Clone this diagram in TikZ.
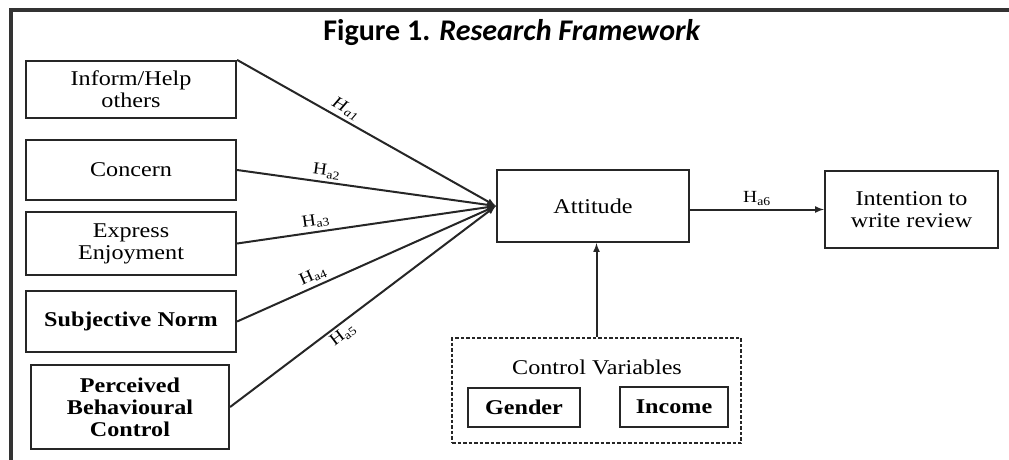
\documentclass[tikz,border=0pt]{standalone}
\usepackage{fontspec}
\setmainfont{Liberation Serif}[FakeStretch=1.15]
\newfontfamily\titlefont{Carlito}
\usetikzlibrary{arrows,positioning}

\begin{document}
\begin{tikzpicture}[x=1pt,y=-1pt,
  font=\fontsize{21}{22}\selectfont,
  varbox/.style={draw=black!85, line width=2.2pt, align=center, inner sep=0pt},
  edge/.style={draw=black!85, line width=2pt, -latex},
  hlabel/.style={font=\fontsize{17}{17}\selectfont, sloped, inner sep=3pt},
  ]
  \useasboundingbox (0,0) rectangle (1009,460);
  \draw[line width=3.5pt, black!80] (11,460) -- (11,10) -- (1009,10);
  \node[font=\titlefont\fontsize{30}{32}\selectfont\bfseries] (title) at (512,33) {Figure 1. \textit{Research Framework}};

  % left side
  \node[varbox, minimum width=210, minimum height=57] (help) at (131,89.5) {Inform/Help\\others};
  \node[varbox, minimum width=210, minimum height=60] (concern) at (131,170) {Concern};
  \node[varbox, minimum width=210, minimum height=63] (enjoy) at (131,243.5) {Express\\Enjoyment};
  \node[varbox, minimum width=210, minimum height=61, font=\fontsize{21}{22}\selectfont\bfseries] (norm) at (131,321.5) {Subjective Norm};
  \node[varbox, minimum width=198, minimum height=84, font=\fontsize{21}{22}\selectfont\bfseries] (pbc) at (130,407) {Perceived\\Behavioural\\Control};

  % right side
  \node[varbox, minimum width=192, minimum height=72] (att) at (593,206) {Attitude};
  \node[varbox, minimum width=173, minimum height=77] (intent) at (911.5,209.5) {Intention to\\write review};

  % control variables
  \node[draw=black!85, line width=1.6pt, dash pattern=on 3.5pt off 2pt, minimum width=289, minimum height=105] (ctrl) at (596.5,390.5) {};
  \node (ctrltitle) at (597,367) {Control Variables};
  \node[varbox, minimum width=112, minimum height=39, font=\fontsize{21}{22}\selectfont\bfseries] (gender) at (524,407.5) {Gender};
  \node[varbox, minimum width=108, minimum height=40, font=\fontsize{21}{22}\selectfont\bfseries] (income) at (674,407) {Income};

  \draw[edge] (help.north east) -- node[hlabel, above, pos=0.4] {\textit{H}\textsubscript{\textit{a1}}} (att.west);
  \draw[edge] (concern.east) -- node[hlabel, above, pos=0.34] {H\textsubscript{a2}} (att.west);
  \draw[edge] (enjoy.east) -- node[hlabel, above, pos=0.31] {H\textsubscript{a3}} (att.west);
  \draw[edge] (norm.east) -- node[hlabel, above, pos=0.31] {H\textsubscript{a4}} (att.west);
  \draw[edge] (pbc.east) -- node[hlabel, below, pos=0.4] {H\textsubscript{a5}} (att.west);
  \draw[edge] (att.east |- intent.west) -- node[hlabel, above] {H\textsubscript{a6}} (intent.west);
  \draw[edge] (ctrl.north) -- (ctrl.north |- att.south);
\end{tikzpicture}
\end{document}
